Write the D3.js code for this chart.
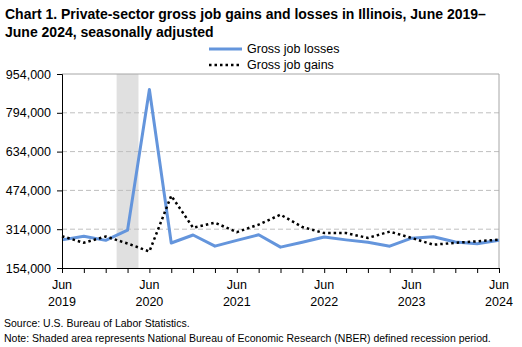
<!DOCTYPE html>
<meta charset="utf-8">
<style>
body { margin: 0; background: #fff; }
svg text { font-family: "Liberation Sans", Arial, sans-serif; fill: #000; }
.title { font-weight: bold; font-size: 14px; }
.tick-label { font-size: 12.5px; }
.legend text { font-size: 12.5px; }
.foot { font-size: 10.5px; }
.grid line { stroke: #bfbfbf; stroke-dasharray: 5,3; }
</style>
<svg width="522" height="347"></svg>
<script src="https://cdn.jsdelivr.net/npm/d3@7"></script>
<script>

// quarterly data, thousands
var quarters = ["Jun 2019","Sep 2019","Dec 2019","Mar 2020","Jun 2020","Sep 2020","Dec 2020",
  "Mar 2021","Jun 2021","Sep 2021","Dec 2021","Mar 2022","Jun 2022","Sep 2022","Dec 2022",
  "Mar 2023","Jun 2023","Sep 2023","Dec 2023","Mar 2024","Jun 2024"];
var losses = [270, 285, 268, 310, 890, 257, 290, 244, 268, 291, 240, 260, 282, 270, 260, 244, 277, 283, 261, 254, 268];
var gains  = [285, 258, 284, 255, 222, 452, 320, 341, 302, 333, 374, 323, 298, 298, 278, 304, 278, 250, 258, 264, 271];
var yTicks = [154000, 314000, 474000, 634000, 794000, 954000];
var xLabelIdx = [0, 4, 8, 12, 16, 20];
var recession = [3, 3]; // Mar 2020 quarter

var svg = d3.select("svg");
var pLeft = 62, pRight = 499, pTop = 74, pBottom = 268;

var x = d3.scaleLinear().domain([0, quarters.length - 1]).range([pLeft, pRight]);
var y = d3.scaleLinear().domain([154000, 954000]).range([pBottom, pTop]);

// titles
svg.append("text").attr("class", "title").attr("x", 5).attr("y", 19)
  .text("Chart 1. Private-sector gross job gains and losses in Illinois, June 2019–");
svg.append("text").attr("class", "title").attr("x", 5).attr("y", 37)
  .text("June 2024, seasonally adjusted");

// recession shading
svg.append("rect")
  .attr("x", x(recession[0] - 0.5))
  .attr("width", x(recession[1] + 0.5) - x(recession[0] - 0.5))
  .attr("y", pTop).attr("height", pBottom - pTop)
  .attr("fill", "#e0e0e0");

// grid
svg.append("g").attr("class", "grid")
  .selectAll("line").data(yTicks.slice(1, -1)).enter().append("line")
  .attr("x1", pLeft).attr("x2", pRight)
  .attr("y1", function(d) { return y(d); }).attr("y2", function(d) { return y(d); });

// plot border top/right
svg.append("path")
  .attr("d", "M" + pLeft + "," + pTop + "H" + pRight + "V" + pBottom)
  .attr("fill", "none").attr("stroke", "#a6a6a6");

// lines
var line = function(vals) {
  return d3.line()
    .x(function(d, i) { return x(i); })
    .y(function(d) { return y(d * 1000); })(vals);
};

svg.append("path").attr("d", line(losses))
  .attr("fill", "none").attr("stroke", "#6495dc").attr("stroke-width", 3)
  .attr("stroke-linejoin", "round");

svg.append("path").attr("d", line(gains))
  .attr("fill", "none").attr("stroke", "#000").attr("stroke-width", 2.5)
  .attr("stroke-dasharray", "2.5,3");

// axes
var yAxis = d3.axisLeft(y).tickValues(yTicks).tickSize(5).tickPadding(4)
  .tickFormat(d3.format(","));
var gy = svg.append("g").attr("transform", "translate(" + pLeft + ",0)").call(yAxis);
gy.select(".domain").attr("stroke", "#000");
gy.selectAll("text").attr("class", "tick-label").attr("font-size", null).attr("font-family", null)
  .attr("dx", "-2");

var xAxis = d3.axisBottom(x).tickValues(d3.range(quarters.length)).tickSize(5).tickFormat("");
var gx = svg.append("g").attr("transform", "translate(0," + pBottom + ")").call(xAxis);
gx.select(".domain").attr("stroke", "#000");

var xl = svg.append("g").selectAll("text").data(xLabelIdx).enter().append("text")
  .attr("class", "tick-label").attr("text-anchor", "middle")
  .attr("x", function(d) { return x(d); }).attr("y", 289);
xl.append("tspan").attr("x", function(d) { return x(d); })
  .text(function(d) { return quarters[d].split(" ")[0]; });
xl.append("tspan").attr("x", function(d) { return x(d); }).attr("dy", 17)
  .text(function(d) { return quarters[d].split(" ")[1]; });

// legend
var lg = svg.append("g").attr("class", "legend");
lg.append("line").attr("x1", 209).attr("x2", 242).attr("y1", 49).attr("y2", 49)
  .attr("stroke", "#6495dc").attr("stroke-width", 3);
lg.append("text").attr("x", 247).attr("y", 53).text("Gross job losses");
lg.append("line").attr("x1", 209).attr("x2", 240).attr("y1", 65).attr("y2", 65)
  .attr("stroke", "#000").attr("stroke-width", 2.5).attr("stroke-dasharray", "2.5,3");
lg.append("text").attr("x", 247).attr("y", 69).text("Gross job gains");

// footnotes
svg.append("text").attr("class", "foot").attr("x", 4).attr("y", 327)
  .text("Source: U.S. Bureau of Labor Statistics.");
svg.append("text").attr("class", "foot").attr("x", 4).attr("y", 342)
  .text("Note: Shaded area represents National Bureau of Economic Research (NBER) defined recession period.");

</script>
